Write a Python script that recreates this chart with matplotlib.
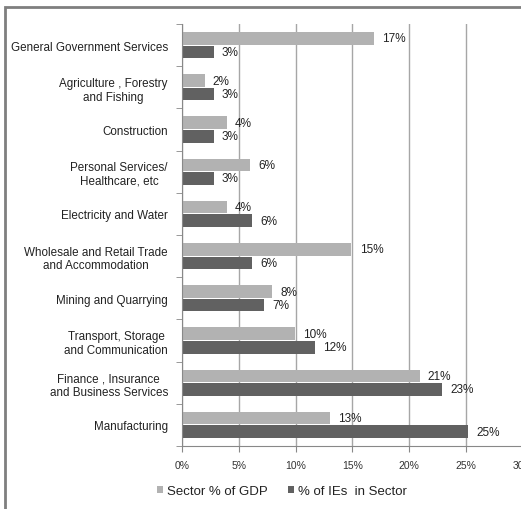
import numpy as np
from matplotlib import pyplot as plt
from matplotlib.patches import Rectangle

# categories, top to bottom as in the chart
sectors = ["General Government Services", "Agriculture , Forestry\nand Fishing", "Construction",
           "Personal Services/\nHealthcare, etc", "Electricity and Water",
           "Wholesale and Retail Trade\nand Accommodation", "Mining and Quarrying",
           "Transport, Storage\nand Communication", "Finance , Insurance\nand Business Services",
           "Manufacturing"]
gdp_share = [16.9, 2.0, 3.95, 6.0, 3.95, 14.9, 7.9, 9.95, 20.9, 13.0]
ie_share = [2.8, 2.8, 2.8, 2.8, 6.2, 6.2, 7.2, 11.7, 22.9, 25.2]
xticks = [0, 5, 10, 15, 20, 25, 30]

light = "#b2b2b2"
dark = "#616161"

plt.rcParams['font.family'] = ['Liberation Sans', 'DejaVu Sans']

fig = plt.figure(figsize=(5.21, 5.10), dpi=100)
ax = fig.add_axes([0.349, 0.1235, 0.655, 0.8275])

y = np.arange(len(sectors))
h = 0.3
b1 = ax.barh(y - h / 2 - 0.01, gdp_share, height=h, color=light, zorder=2, label="Sector % of GDP")
b2 = ax.barh(y + h / 2 + 0.01, ie_share, height=h, color=dark, zorder=2, label="% of IEs  in Sector")

for bars, vals in ((b1, gdp_share), (b2, ie_share)):
    for bar, v in zip(bars, vals):
        ax.annotate(f"{round(v)}%", (bar.get_width(), bar.get_y() + bar.get_height() / 2),
                    xytext=(6, 0), textcoords="offset points", va="center", ha="left",
                    fontsize=8.5, color="#222222")

ax.set_xlim(0, 30)
ax.set_ylim(len(sectors) - 0.5, -0.5)
ax.set_xticks(xticks)
ax.set_xticklabels([f"{t}%" for t in xticks], fontsize=7.5, color="#333333")
ax.set_yticks(y)
ax.set_yticklabels(sectors, fontsize=8.4, color="#222222")
ax.set_yticks(np.arange(-0.5, len(sectors), 1), minor=True)
ax.tick_params(axis="y", which="major", length=0, pad=10)
ax.tick_params(axis="y", which="minor", length=4, color="#888888")
ax.tick_params(axis="x", length=4, color="#888888", pad=6)
ax.xaxis.grid(True, color="#a6a6a6", linewidth=1, zorder=0)
for side in ("top", "right"):
    ax.spines[side].set_visible(False)
for side in ("left", "bottom"):
    ax.spines[side].set_color("#888888")

for t in ax.get_yticklabels():
    t.set_multialignment("center")

fig.legend(handles=[b1, b2], loc="center", bbox_to_anchor=(282 / 521, 1 - 492 / 510), ncol=2,
           frameon=False, fontsize=9.5, handlelength=0.45, handleheight=0.45, handletextpad=0.3,
           columnspacing=1.6, labelcolor="#222222")

# outer chart frame (only left and top edges show)
fig.patches.append(Rectangle((5 / 521, -0.1), 1.2, 1 - 8 / 510 + 0.1, transform=fig.transFigure,
                             fill=False, edgecolor="#7f7f7f", linewidth=2))

fig.savefig("out.png", dpi=100)
